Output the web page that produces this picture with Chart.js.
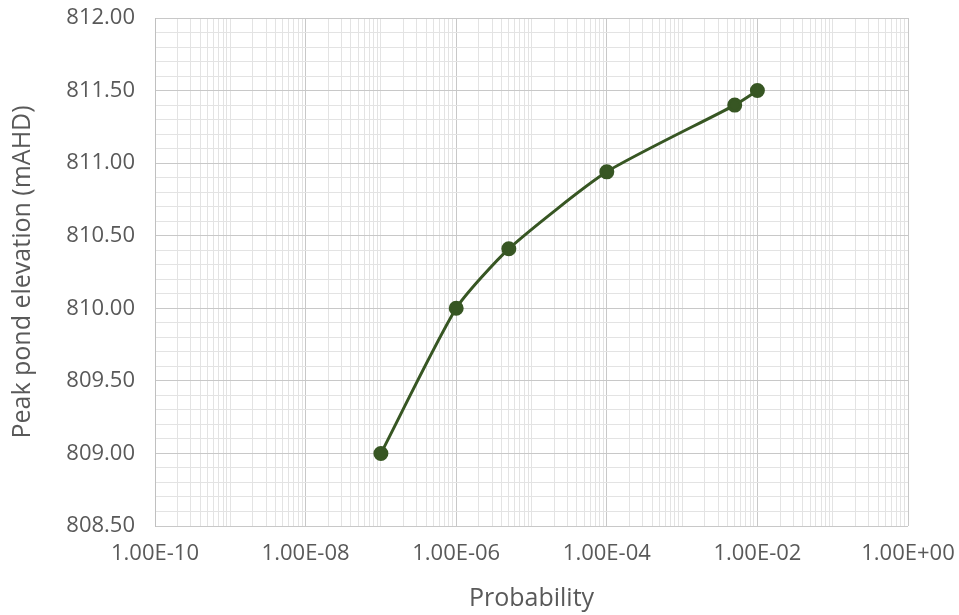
<!DOCTYPE html>
<html>
<head>
<meta charset="utf-8">
<script src="https://cdn.jsdelivr.net/npm/chart.js@4"></script>
<style>
  body { margin: 0; background: #fff; }
  canvas { display: block; }
</style>
</head>
<body>
<canvas id="chart" width="959" height="615"></canvas>
<script>
// data
var probability = [1e-7, 1e-6, 5e-6, 1e-4, 5e-3, 1e-2];
var elevation = [809.00, 810.00, 810.41, 810.94, 811.40, 811.50];

// axis ticks
var xMajorExponents = [-10, -8, -6, -4, -2, 0];
var xMinorMultipliers = [1, 2, 3, 4, 5, 6, 7, 8, 9];
var yMin = 808.5, yMax = 812.0, yMajorStep = 0.5, yMinorStep = 0.1;

var xTicks = [];
for (var e = -10; e < 0; e++) {
    xMinorMultipliers.forEach(function (m) { xTicks.push(m * Math.pow(10, e)); });
}
xTicks.push(1);

function isXMajor(v) {
    var ex = Math.log10(v);
    var r = Math.round(ex);
    return Math.abs(ex - r) < 1e-6 && xMajorExponents.indexOf(r) !== -1;
}
function isYMajor(v) {
    var q = (v - yMin) / yMajorStep;
    return Math.abs(q - Math.round(q)) < 1e-6;
}
function fmtSci(v) {
    var ex = Math.round(Math.log10(v));
    var mant = v / Math.pow(10, ex);
    return mant.toFixed(2) + 'E' + (ex < 0 ? '-' : '+') + String(Math.abs(ex)).padStart(2, '0');
}

Chart.defaults.font.family = "'Open Sans', sans-serif";
Chart.defaults.color = '#595959';

var points = probability.map(function (p, i) { return { x: p, y: elevation[i] }; });

var ctx = document.getElementById('chart');
var chart = new Chart(ctx, {
    type: 'scatter',
    data: {
        datasets: [{
            data: points,
            showLine: true,
            borderColor: '#375623',
            backgroundColor: '#375623',
            borderWidth: 3,
            pointRadius: 6,
            pointHoverRadius: 6,
            tension: 0.2
        }]
    },
    options: {
        responsive: false,
        animation: false,
        layout: { padding: { top: 18, right: 51, left: 0, bottom: 0 } },
        plugins: { legend: { display: false }, tooltip: { enabled: false } },
        scales: {
            x: {
                type: 'logarithmic',
                min: 1e-10,
                max: 1,
                afterBuildTicks: function (scale) {
                    scale.ticks = xTicks.map(function (v) { return { value: v }; });
                },
                afterFit: function (scale) {
                    scale.height = 89;
                    scale.paddingLeft = 0;
                    scale.paddingRight = 0;
                },
                grid: {
                    drawTicks: false,
                    color: function (c) { return c.tick && isXMajor(c.tick.value) ? '#c8c8c8' : '#e3e3e3'; }
                },
                border: { display: false },
                ticks: {
                    autoSkip: false,
                    maxRotation: 0,
                    minRotation: 0,
                    padding: 15,
                    font: { size: 22 },
                    callback: function (value) { return isXMajor(value) ? fmtSci(value) : ''; }
                },
                title: {
                    display: true,
                    text: 'Probability',
                    font: { size: 25 },
                    padding: { top: 0, bottom: 1 }
                }
            },
            y: {
                min: yMin,
                max: yMax,
                afterFit: function (scale) {
                    scale.width = 155;
                    scale.paddingTop = 0;
                    scale.paddingBottom = 0;
                },
                grid: {
                    drawTicks: false,
                    color: function (c) { return c.tick && isYMajor(c.tick.value) ? '#c8c8c8' : '#e3e3e3'; }
                },
                border: { color: '#c0c0c0' },
                ticks: {
                    stepSize: yMinorStep,
                    autoSkip: false,
                    padding: 20,
                    font: { size: 22 },
                    callback: function (value) { return isYMajor(value) ? value.toFixed(2) : ''; }
                },
                title: {
                    display: true,
                    text: 'Peak pond elevation (mAHD)',
                    font: { size: 25 },
                    padding: { top: 8, bottom: 0 }
                }
            }
        }
    }
});
</script>
</body>
</html>
